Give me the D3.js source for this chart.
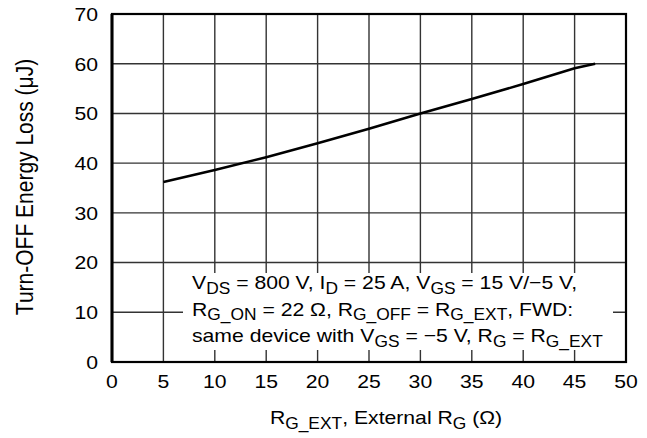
<!DOCTYPE html>
<html lang="en">
<head>
<meta charset="UTF-8">
<title>Turn-OFF Energy Loss vs External RG</title>
<script src="https://d3js.org/d3.v7.min.js"></script>
<style>
    body { margin: 0; background: #fff; }
    text { font-family: "Liberation Sans", Arial, sans-serif; fill: #000; }
</style>
</head>
<body>
<svg width="647" height="438"></svg>
<script>
    // values
    const rgExt = [5, 10, 15, 20, 25, 30, 35, 40, 45, 47];
    const eoff = [36.2, 38.6, 41.2, 44.0, 46.9, 50.0, 52.9, 55.9, 59.1, 60.0];

    const xTicks = [0, 5, 10, 15, 20, 25, 30, 35, 40, 45, 50];
    const yTicks = [0, 10, 20, 30, 40, 50, 60, 70];

    // annotation lines: [text, isSubscript] pieces
    const note = [
        [["V", 0], ["DS", 1], [" = 800 V, I", 0], ["D", 1], [" = 25 A, V", 0], ["GS", 1], [" = 15 V/\u22125 V,", 0]],
        [["R", 0], ["G_ON", 1], [" = 22 \u03A9, R", 0], ["G_OFF", 1], [" = R", 0], ["G_EXT", 1], [", FWD:", 0]],
        [["same device with V", 0], ["GS", 1], [" = \u22125 V, R", 0], ["G", 1], [" = R", 0], ["G_EXT", 1]]
    ];

    const svg = d3.select("svg");
    const pl = 112, pr = 626, pt = 14, pb = 362;
    const fs = 19;
    const sx = 1.115;   // the source art is slightly wide

    const x = d3.scaleLinear().domain([0, 50]).range([pl, pr]);
    const y = d3.scaleLinear().domain([0, 70]).range([pb, pt]);

    // grid
    svg.append("g").selectAll("line").data(xTicks.slice(1, -1)).join("line")
        .attr("x1", d => x(d)).attr("x2", d => x(d))
        .attr("y1", pt).attr("y2", pb)
        .attr("stroke", "#333").attr("stroke-width", 1.4);
    svg.append("g").selectAll("line").data(yTicks.slice(1, -1)).join("line")
        .attr("x1", pl).attr("x2", pr)
        .attr("y1", d => y(d)).attr("y2", d => y(d))
        .attr("stroke", "#333").attr("stroke-width", 1.4);

    // white box behind the conditions text
    svg.append("rect")
        .attr("x", 183).attr("y", 273).attr("width", 430).attr("height", 77)
        .attr("fill", "#fff");

    // frame
    svg.append("rect")
        .attr("x", pl).attr("y", pt)
        .attr("width", pr - pl).attr("height", pb - pt)
        .attr("fill", "none").attr("stroke", "#000").attr("stroke-width", 2.2);
    svg.append("line")
        .attr("x1", pl).attr("x2", pl).attr("y1", pt).attr("y2", pb)
        .attr("stroke", "#000").attr("stroke-width", 3);

    // curve
    const line = d3.line().x((d, i) => x(rgExt[i])).y(d => y(d));
    svg.append("path").datum(eoff)
        .attr("d", line)
        .attr("fill", "none").attr("stroke", "#000").attr("stroke-width", 2.6);

    // tick labels
    svg.append("g").selectAll("text").data(xTicks).join("text")
        .attr("transform", d => `translate(${x(d)},388) scale(${sx},1)`)
        .attr("text-anchor", "middle").attr("font-size", fs)
        .text(d => d);
    svg.append("g").selectAll("text").data(yTicks).join("text")
        .attr("transform", d => `translate(98,${y(d) + 6.8}) scale(${sx},1)`)
        .attr("text-anchor", "end").attr("font-size", fs)
        .text(d => d);

    function addRich(g, parts, size) {
        parts.forEach(([t, sub], i) => {
            const prevSub = i > 0 && parts[i - 1][1];
            g.append("tspan")
                .attr("font-size", sub ? size * 0.82 : size)
                .attr("dy", sub ? 4.5 : (prevSub ? -4.5 : 0))
                .text(t);
        });
    }

    // annotation
    note.forEach((parts, i) => {
        const t = svg.append("text")
            .attr("transform", `translate(192,${289 + i * 26.7}) scale(${sx},1)`)
            .attr("font-size", fs);
        addRich(t, parts, fs);
    });

    // axis titles
    const xt = svg.append("text")
        .attr("transform", `translate(386,424) scale(${sx},1)`)
        .attr("text-anchor", "middle").attr("font-size", fs);
    addRich(xt, [["R", 0], ["G_EXT", 1], [", External R", 0], ["G", 1], [" (\u03A9)", 0]], fs);

    svg.append("text")
        .attr("transform", `translate(33,187) rotate(-90) scale(1,${sx})`)
        .attr("text-anchor", "middle").attr("font-size", 21)
        .text("Turn-OFF Energy Loss (\u03BCJ)");
</script>
</body>
</html>
